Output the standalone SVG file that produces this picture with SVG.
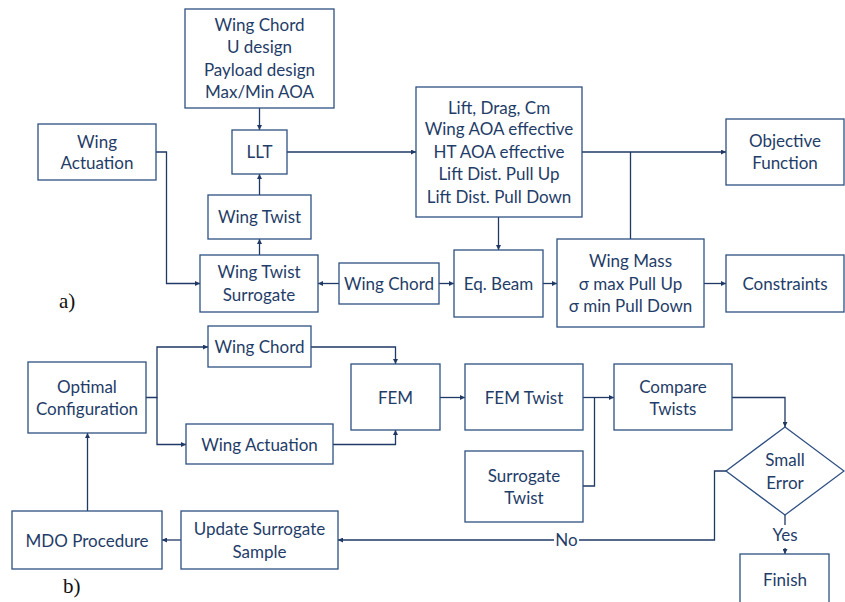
<svg xmlns="http://www.w3.org/2000/svg" width="845" height="602" viewBox="0 0 845 602">
  <style>
    .box { fill: #ffffff; stroke: #2f5083; stroke-width: 1.3; }
    .lbl { font-family: Lato, "Open Sans", sans-serif; font-size: 17px; fill: #1f3d68; text-anchor: middle; }
    .wire { fill: none; stroke: #1f3864; stroke-width: 1.3; }
    .tag { font-family: "Liberation Serif", serif; font-size: 21px; fill: #111111; }
  </style>
  <defs>
    <marker id="arrow" viewBox="0 0 10 10" refX="10" refY="5" markerWidth="5" markerHeight="5" orient="auto" markerUnits="userSpaceOnUse">
      <path d="M0,0 L10,5 L0,10 z" fill="#1f3864"/>
    </marker>
  </defs>
  <rect width="845" height="602" fill="#ffffff"/>

  <!-- connectors -->
  <g id="connectors">
    <!-- part a -->
    <path class="wire" d="M259.5,108 V130" marker-end="url(#arrow)"/>
    <path class="wire" d="M287,152 H416" marker-end="url(#arrow)"/>
    <path class="wire" d="M259.5,195 V174" marker-end="url(#arrow)"/>
    <path class="wire" d="M259.5,255 V239" marker-end="url(#arrow)"/>
    <path class="wire" d="M156,152 H166.5 V283.5 H200" marker-end="url(#arrow)"/>
    <path class="wire" d="M339,283.5 H318" marker-end="url(#arrow)"/>
    <path class="wire" d="M439,283.5 H454" marker-end="url(#arrow)"/>
    <path class="wire" d="M498.5,217 V250" marker-end="url(#arrow)"/>
    <path class="wire" d="M543,283.5 H557" marker-end="url(#arrow)"/>
    <path class="wire" d="M704,283.5 H726" marker-end="url(#arrow)"/>
    <path class="wire" d="M582,152 H726" marker-end="url(#arrow)"/>
    <path class="wire" d="M630.5,239 V152"/>
    <!-- part b -->
    <path class="wire" d="M146,397.5 H157 V347 H208" marker-end="url(#arrow)"/>
    <path class="wire" d="M157,397.5 V444.5 H186" marker-end="url(#arrow)"/>
    <path class="wire" d="M311,347 H395.5 V364" marker-end="url(#arrow)"/>
    <path class="wire" d="M333,444.5 H395.5 V430" marker-end="url(#arrow)"/>
    <path class="wire" d="M440,397.5 H465" marker-end="url(#arrow)"/>
    <path class="wire" d="M583,397.5 H614" marker-end="url(#arrow)"/>
    <path class="wire" d="M583,486 H594.5 V397.5"/>
    <path class="wire" d="M732,397.5 H785 V427" marker-end="url(#arrow)"/>
    <path class="wire" d="M726,471 H714.5 V540 H579"/>
    <path class="wire" d="M554,540 H338" marker-end="url(#arrow)"/>
    <text class="lbl" x="566.5" y="546">No</text>
    <path class="wire" d="M785,515 V525"/>
    <text class="lbl" x="785" y="541">Yes</text>
    <path class="wire" d="M785,548 V554" marker-end="url(#arrow)"/>
    <path class="wire" d="M87.5,511 V433" marker-end="url(#arrow)"/>
    <path class="wire" d="M181,540 H162" marker-end="url(#arrow)"/>
  </g>

  <!-- part a nodes -->
  <g id="design-inputs">
    <rect class="box" x="185" y="9" width="149" height="99"/>
    <text class="lbl" x="259.5" y="31">Wing Chord</text>
    <text class="lbl" x="259.5" y="53">U design</text>
    <text class="lbl" x="259.5" y="76">Payload design</text>
    <text class="lbl" x="259.5" y="98">Max/Min AOA</text>
  </g>
  <g id="llt">
    <rect class="box" x="232" y="130" width="55" height="44"/>
    <text class="lbl" x="259.5" y="158">LLT</text>
  </g>
  <g id="wing-actuation-a">
    <rect class="box" x="38" y="124" width="118" height="56"/>
    <text class="lbl" x="97" y="148">Wing</text>
    <text class="lbl" x="97" y="169">Actuation</text>
  </g>
  <g id="wing-twist">
    <rect class="box" x="208" y="195" width="103" height="44"/>
    <text class="lbl" x="259.5" y="223">Wing Twist</text>
  </g>
  <g id="wing-twist-surrogate">
    <rect class="box" x="200" y="255" width="118" height="57"/>
    <text class="lbl" x="259" y="278">Wing Twist</text>
    <text class="lbl" x="259" y="301">Surrogate</text>
  </g>
  <g id="wing-chord-a">
    <rect class="box" x="339" y="263" width="100" height="41"/>
    <text class="lbl" x="389" y="289.5">Wing Chord</text>
  </g>
  <g id="aero-outputs">
    <rect class="box" x="416" y="87" width="166" height="130"/>
    <text class="lbl" x="499" y="113.5">Lift, Drag, Cm</text>
    <text class="lbl" x="499" y="135">Wing AOA effective</text>
    <text class="lbl" x="499" y="157.5">HT AOA effective</text>
    <text class="lbl" x="499" y="180">Lift Dist. Pull Up</text>
    <text class="lbl" x="499" y="202.5">Lift Dist. Pull Down</text>
  </g>
  <g id="eq-beam">
    <rect class="box" x="454" y="250" width="89" height="67"/>
    <text class="lbl" x="498.5" y="289.5">Eq. Beam</text>
  </g>
  <g id="wing-mass">
    <rect class="box" x="557" y="239" width="147" height="88"/>
    <text class="lbl" x="630.5" y="267">Wing Mass</text>
    <text class="lbl" x="630.5" y="289.5">σ max Pull Up</text>
    <text class="lbl" x="630.5" y="312">σ min Pull Down</text>
  </g>
  <g id="objective-function">
    <rect class="box" x="726" y="119" width="118" height="66"/>
    <text class="lbl" x="785" y="147">Objective</text>
    <text class="lbl" x="785" y="169">Function</text>
  </g>
  <g id="constraints">
    <rect class="box" x="726" y="255" width="118" height="57"/>
    <text class="lbl" x="785" y="289.5">Constraints</text>
  </g>
  <text class="tag" x="59" y="308">a)</text>

  <!-- part b nodes -->
  <g id="optimal-configuration">
    <rect class="box" x="28" y="362" width="118" height="71"/>
    <text class="lbl" x="87" y="392.5">Optimal</text>
    <text class="lbl" x="87" y="415">Configuration</text>
  </g>
  <g id="wing-chord-b">
    <rect class="box" x="208" y="326" width="103" height="41"/>
    <text class="lbl" x="259.5" y="352.5">Wing Chord</text>
  </g>
  <g id="wing-actuation-b">
    <rect class="box" x="186" y="424" width="147" height="40"/>
    <text class="lbl" x="259.5" y="451">Wing Actuation</text>
  </g>
  <g id="fem">
    <rect class="box" x="351" y="364" width="89" height="66"/>
    <text class="lbl" x="395.5" y="404">FEM</text>
  </g>
  <g id="fem-twist">
    <rect class="box" x="465" y="364" width="118" height="66"/>
    <text class="lbl" x="524" y="404">FEM Twist</text>
  </g>
  <g id="surrogate-twist">
    <rect class="box" x="465" y="451" width="118" height="71"/>
    <text class="lbl" x="524" y="481.5">Surrogate</text>
    <text class="lbl" x="524" y="503.5">Twist</text>
  </g>
  <g id="compare-twists">
    <rect class="box" x="614" y="364" width="118" height="66"/>
    <text class="lbl" x="673" y="392.5">Compare</text>
    <text class="lbl" x="673" y="415">Twists</text>
  </g>
  <g id="small-error">
    <path class="box" d="M785,427 L844,471 L785,515 L726,471 Z"/>
    <text class="lbl" x="785" y="466">Small</text>
    <text class="lbl" x="785" y="489">Error</text>
  </g>
  <g id="finish">
    <rect class="box" x="740" y="554" width="89" height="60"/>
    <text class="lbl" x="785" y="586">Finish</text>
  </g>
  <g id="update-surrogate-sample">
    <rect class="box" x="181" y="511" width="157" height="58"/>
    <text class="lbl" x="259.5" y="535">Update Surrogate</text>
    <text class="lbl" x="259.5" y="558">Sample</text>
  </g>
  <g id="mdo-procedure">
    <rect class="box" x="12" y="511" width="150" height="58"/>
    <text class="lbl" x="87" y="546.5">MDO Procedure</text>
  </g>
  <text class="tag" x="63" y="593">b)</text>
</svg>
